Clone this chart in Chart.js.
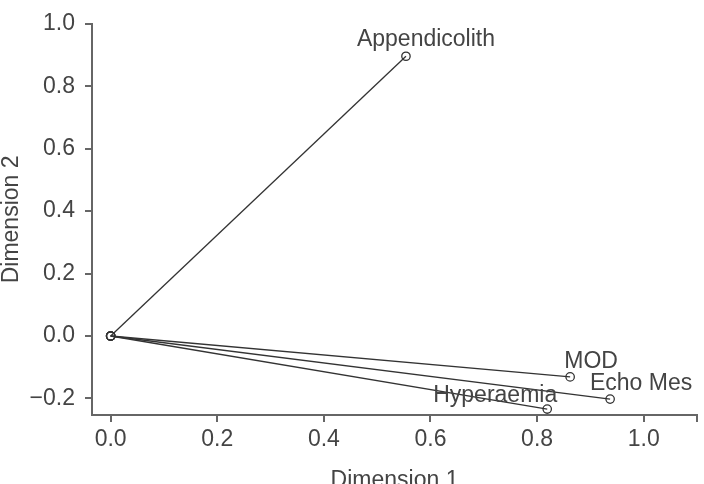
<!DOCTYPE html>
<html>
<head>
<meta charset="utf-8">
<script src="https://cdn.jsdelivr.net/npm/chart.js@4.4.1/dist/chart.umd.min.js"></script>
<style>
  html, body { margin: 0; padding: 0; background: #fff; }
</style>
</head>
<body>
<canvas id="biplot" width="704" height="484"></canvas>
<script>
// Variables and their coordinates on the two dimensions
const variables = ["Appendicolith", "MOD", "Echo Mes", "Hyperaemia"];
const dim1 = [0.554, 0.862, 0.937, 0.819];
const dim2 = [0.896, -0.131, -0.202, -0.234];

const xTicks = [0, 0.2, 0.4, 0.6, 0.8, 1.0, 1.1];
const yTicks = [-0.2, 0, 0.2, 0.4, 0.6, 0.8, 1.0];

// label placement relative to the point (pixels)
const labelOffset = {
  "Appendicolith": [20, -10],
  "MOD": [21, -9],
  "Echo Mes": [31, -9],
  "Hyperaemia": [-52, -7],
};

const INK = "#333333";
const AXIS = "#666666";
const TEXT = "#444444";
const FONT = "'Liberation Sans', Arial, sans-serif";
const SIZE = 23;

const fmt = v => v.toFixed(1).replace("-", "\u2212");

const pointLabels = {
  id: "pointLabels",
  afterDatasetsDraw(chart) {
    const ctx = chart.ctx;
    ctx.save();
    ctx.font = SIZE + "px " + FONT;
    ctx.fillStyle = TEXT;
    ctx.textAlign = "center";
    ctx.textBaseline = "alphabetic";
    chart.data.datasets.forEach((ds, i) => {
      const el = chart.getDatasetMeta(i).data[1];
      const off = labelOffset[ds.label] || [0, -10];
      ctx.fillText(ds.label, el.x + off[0], el.y + off[1]);
    });
    ctx.restore();
  }
};

new Chart(document.getElementById("biplot"), {
  type: "scatter",
  data: {
    datasets: variables.map((name, i) => ({
      label: name,
      data: [{ x: 0, y: 0 }, { x: dim1[i], y: dim2[i] }],
      showLine: true,
      borderColor: INK,
      borderWidth: 1.3,
      pointRadius: 4.2,
      pointBorderWidth: 1.3,
      pointBorderColor: INK,
      pointBackgroundColor: "rgba(255,255,255,0)",
    })),
  },
  options: {
    responsive: false,
    animation: false,
    layout: { padding: { top: 20, right: 7, left: 0, bottom: 0 } },
    plugins: { legend: { display: false }, tooltip: { enabled: false } },
    scales: {
      x: {
        type: "linear",
        min: -0.035,
        max: 1.1,
        afterBuildTicks: s => { s.ticks = xTicks.map(v => ({ value: v })); },
        afterFit: s => { s.height = 69; },
        grid: { drawOnChartArea: false, drawTicks: true, tickLength: 7, color: AXIS, lineWidth: 2 },
        border: { display: true, color: AXIS, width: 2 },
        ticks: {
          padding: 4,
          color: TEXT,
          font: { family: FONT, size: SIZE },
          maxRotation: 0,
          autoSkip: false,
          callback: v => (v > 1.05 ? "" : fmt(v)),
        },
        title: {
          display: true,
          text: "Dimension 1",
          color: TEXT,
          font: { family: FONT, size: SIZE, lineHeight: "6px" },
          padding: 0,
        },
      },
      y: {
        type: "linear",
        min: -0.253,
        max: 1.0,
        afterBuildTicks: s => { s.ticks = yTicks.map(v => ({ value: v })); },
        afterFit: s => { s.width = 92; },
        grid: { drawOnChartArea: false, drawTicks: true, tickLength: 7, color: AXIS, lineWidth: 2 },
        border: { display: true, color: AXIS, width: 2 },
        ticks: {
          padding: 10,
          color: TEXT,
          font: { family: FONT, size: SIZE },
          autoSkip: false,
          callback: v => fmt(v),
        },
        title: {
          display: true,
          text: "Dimension 2",
          color: TEXT,
          font: { family: FONT, size: SIZE, lineHeight: "24px" },
          padding: 0,
        },
      },
    },
  },
  plugins: [pointLabels],
});
</script>
</body>
</html>
